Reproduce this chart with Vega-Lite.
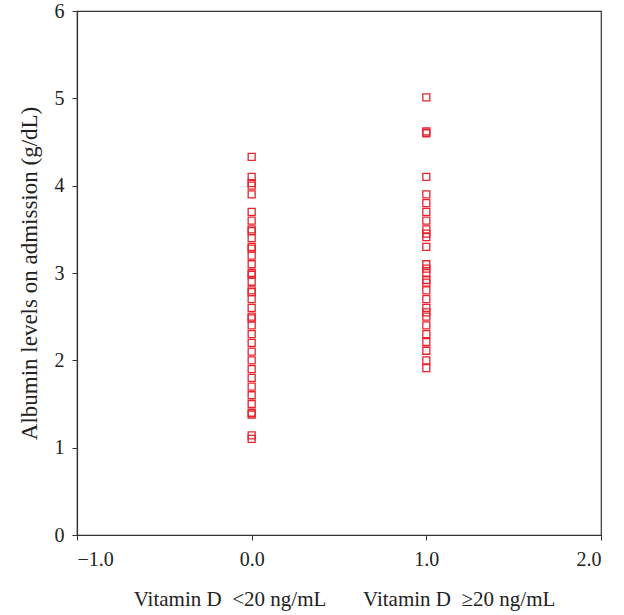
{
  "$schema": "https://vega.github.io/schema/vega-lite/v6.json",
  "width": 524,
  "height": 524,
  "autosize": "none",
  "padding": {"left": 77, "top": 11, "right": 23, "bottom": 80},
  "background": "white",
  "config": {
    "font": "Liberation Serif",
    "view": {"stroke": "#333333", "strokeWidth": 1.2},
    "axis": {
      "grid": false,
      "domainColor": "#333333",
      "domainWidth": 1.2,
      "tickColor": "#333333",
      "tickSize": 5,
      "labelFont": "Liberation Serif",
      "labelFontSize": 20,
      "labelColor": "#222222",
      "titleFont": "Liberation Serif",
      "titleFontSize": 21,
      "titleFontWeight": "normal",
      "titleColor": "#222222"
    }
  },
  "data": {
    "values": [
      {"group": 0, "albumin": 4.33},
      {"group": 0, "albumin": 4.1},
      {"group": 0, "albumin": 4.03},
      {"group": 0, "albumin": 4.0},
      {"group": 0, "albumin": 3.9},
      {"group": 0, "albumin": 3.7},
      {"group": 0, "albumin": 3.6},
      {"group": 0, "albumin": 3.5},
      {"group": 0, "albumin": 3.48},
      {"group": 0, "albumin": 3.4},
      {"group": 0, "albumin": 3.3},
      {"group": 0, "albumin": 3.28},
      {"group": 0, "albumin": 3.2},
      {"group": 0, "albumin": 3.1},
      {"group": 0, "albumin": 3.0},
      {"group": 0, "albumin": 2.98},
      {"group": 0, "albumin": 2.9},
      {"group": 0, "albumin": 2.8},
      {"group": 0, "albumin": 2.78},
      {"group": 0, "albumin": 2.7},
      {"group": 0, "albumin": 2.6},
      {"group": 0, "albumin": 2.5},
      {"group": 0, "albumin": 2.48},
      {"group": 0, "albumin": 2.4},
      {"group": 0, "albumin": 2.3},
      {"group": 0, "albumin": 2.2},
      {"group": 0, "albumin": 2.1},
      {"group": 0, "albumin": 2.0},
      {"group": 0, "albumin": 1.9},
      {"group": 0, "albumin": 1.8},
      {"group": 0, "albumin": 1.7},
      {"group": 0, "albumin": 1.6},
      {"group": 0, "albumin": 1.5},
      {"group": 0, "albumin": 1.4},
      {"group": 0, "albumin": 1.38},
      {"group": 0, "albumin": 1.14},
      {"group": 0, "albumin": 1.1},
      {"group": 1, "albumin": 5.01},
      {"group": 1, "albumin": 4.62},
      {"group": 1, "albumin": 4.6},
      {"group": 1, "albumin": 4.1},
      {"group": 1, "albumin": 3.9},
      {"group": 1, "albumin": 3.8},
      {"group": 1, "albumin": 3.7},
      {"group": 1, "albumin": 3.6},
      {"group": 1, "albumin": 3.5},
      {"group": 1, "albumin": 3.45},
      {"group": 1, "albumin": 3.41},
      {"group": 1, "albumin": 3.3},
      {"group": 1, "albumin": 3.1},
      {"group": 1, "albumin": 3.05},
      {"group": 1, "albumin": 3.0},
      {"group": 1, "albumin": 2.92},
      {"group": 1, "albumin": 2.89},
      {"group": 1, "albumin": 2.8},
      {"group": 1, "albumin": 2.7},
      {"group": 1, "albumin": 2.6},
      {"group": 1, "albumin": 2.55},
      {"group": 1, "albumin": 2.5},
      {"group": 1, "albumin": 2.4},
      {"group": 1, "albumin": 2.3},
      {"group": 1, "albumin": 2.21},
      {"group": 1, "albumin": 2.11},
      {"group": 1, "albumin": 2.0},
      {"group": 1, "albumin": 1.91}
    ]
  },
  "mark": {
    "type": "point",
    "shape": "square",
    "filled": false,
    "size": 49,
    "stroke": "#e8232b",
    "strokeWidth": 1.3,
    "opacity": 1
  },
  "encoding": {
    "x": {
      "field": "group",
      "type": "quantitative",
      "scale": {"domain": [-1, 2], "nice": false, "zero": false},
      "axis": {
        "values": [-1, 0, 1, 2],
        "format": ".1f",
        "labelPadding": 9,
        "title": "Vitamin D\u00a0 <20\u00a0ng/mL\u00a0\u00a0\u00a0\u00a0\u00a0\u00a0\u00a0Vitamin D\u00a0 ≥20\u00a0ng/mL",
        "titleX": 267,
        "titleY": 70,
        "titleAlign": "center",
        "titleBaseline": "alphabetic"
      }
    },
    "y": {
      "field": "albumin",
      "type": "quantitative",
      "scale": {"domain": [0, 6], "nice": false},
      "axis": {
        "values": [0, 1, 2, 3, 4, 5, 6],
        "format": "d",
        "labelPadding": 8,
        "title": "Albumin levels on admission (g/dL)",
        "titleFontSize": 23,
        "titlePadding": 13
      }
    }
  }
}
